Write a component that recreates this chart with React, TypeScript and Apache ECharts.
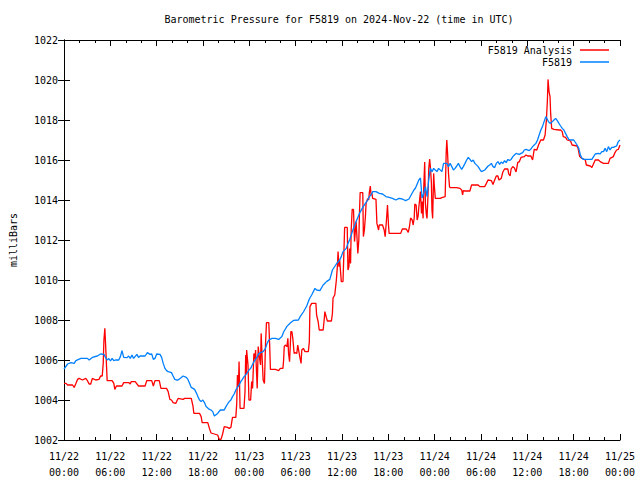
import React, { useEffect, useRef } from "react";
import * as echarts from "echarts";

const titleText = "Barometric Pressure for F5819 on 2024-Nov-22 (time in UTC)";
const yAxisName = "milliBars";
const seriesNames = ["F5819 Analysis", "F5819"];
const seriesColors = ["#ff0000", "#0080ff"];

// hours since 2024-11-22 00:00 UTC
const redHours = [
  0, 0.26, 0.47, 1.11, 1.32, 1.54, 1.75, 1.96, 2.39, 2.82, 3.03, 3.25, 3.46, 3.67, 4.1, 4.53, 4.74, 4.95,
  5.08, 5.17, 5.29, 5.38, 5.51, 5.59, 6.23, 6.45, 6.58, 6.79, 7.51, 7.73, 8.37, 8.58, 8.71, 9.22, 9.65,
  10.5, 10.72, 11.36, 11.57, 11.78, 12.34, 12.55, 13.28, 13.49, 13.71, 13.92, 14.13, 14.47, 14.77, 15.41,
  15.63, 16.48, 16.7, 16.82, 17.55, 17.76, 17.89, 18.62, 18.83, 19.04, 19.47, 19.9, 20.11, 20.33, 20.54,
  20.75, 21.18, 21.39, 21.61, 21.82, 22.25, 22.37, 22.46, 22.59, 22.67, 22.8, 23.31, 23.44, 23.53, 23.61,
  23.65, 23.83, 23.95, 24.17, 24.3, 24.42, 24.59, 24.72, 24.81, 25.02, 25.15, 25.24, 25.45, 25.53, 25.66,
  25.79, 25.96, 26.09, 26.22, 26.52, 26.64, 26.73, 27.37, 27.8, 28.01, 28.35, 28.44, 28.52, 28.65, 28.87,
  28.99, 29.08, 29.21, 29.38, 29.51, 29.63, 29.8, 29.93, 30.15, 30.27, 30.36, 30.57, 30.7, 30.79, 31.0,
  31.21, 31.64, 31.77, 31.85, 32.07, 32.62, 32.71, 32.92, 33.05, 33.56, 33.69, 33.78, 33.99, 34.11, 34.63,
  34.76, 34.84, 35.06, 35.27, 35.4, 35.49, 35.61, 35.7, 35.83, 35.91, 36.13, 36.25, 36.34, 36.68, 36.77,
  36.9, 36.98, 37.11, 37.19, 37.32, 37.49, 37.62, 37.83, 38.05, 38.18, 38.26, 38.35, 38.69, 38.77, 38.9,
  39.03, 39.12, 39.33, 39.46, 39.54, 39.67, 39.76, 39.88, 39.97, 40.4, 40.52, 40.74, 40.82, 41.25, 41.46,
  41.59, 41.76, 41.89, 42.02, 42.1, 43.6, 43.81, 44.32, 44.58, 44.75, 44.88, 45.09, 45.22, 45.35, 45.43,
  45.6, 45.73, 45.86, 45.94, 46.16, 46.29, 46.37, 46.5, 46.59, 46.71, 46.8, 46.93, 47.01, 47.14, 47.23,
  47.35, 47.44, 47.57, 47.65, 47.74, 47.87, 47.95, 48.08, 48.72, 48.93, 49.36, 49.49, 49.57, 49.66, 49.79,
  49.92, 50.0, 50.86, 51.28, 51.5, 51.62, 51.71, 51.92, 52.56, 52.78, 53.63, 53.84, 54.48, 54.7, 54.91,
  55.34, 55.55, 55.77, 55.98, 56.19, 56.32, 56.62, 56.83, 57.05, 57.47, 57.6, 57.77, 57.9, 58.11, 58.33,
  58.54, 58.67, 58.75, 58.97, 59.18, 59.61, 59.82, 60.04, 60.46, 60.68, 60.89, 61.23, 61.45, 61.74, 62.09,
  62.3, 62.47, 62.6, 62.68, 62.81, 62.94, 63.02, 63.15, 63.45, 64.09, 64.31, 64.52, 64.65, 64.95, 65.16,
  65.59, 65.8, 66.44, 66.57, 66.78, 67.08, 67.51, 67.64, 68.15, 68.36, 68.79, 69.22, 69.43, 69.86, 70.5,
  70.71, 71.14, 71.35, 71.56, 71.78, 72.0,
];
const redValues = [
  1004.83, 1004.83, 1004.75, 1004.75, 1004.63, 1004.83, 1005.03, 1005.08, 1005.0, 1005.08, 1004.97, 1004.8,
  1004.8, 1005.08, 1005.0, 1005.03, 1005.2, 1005.2, 1005.83, 1007.0, 1007.58, 1006.83, 1005.67, 1004.97,
  1004.97, 1004.83, 1004.53, 1004.7, 1004.7, 1004.87, 1004.87, 1004.8, 1004.92, 1004.92, 1004.7, 1004.7,
  1004.97, 1004.97, 1004.7, 1004.97, 1004.97, 1004.58, 1004.58, 1004.42, 1004.03, 1004.0, 1003.87, 1003.83,
  1004.08, 1004.03, 1004.08, 1004.08, 1003.7, 1003.33, 1003.33, 1003.17, 1002.87, 1002.87, 1002.58, 1002.35,
  1002.3, 1002.25, 1002.03, 1002.03, 1002.3, 1002.67, 1002.63, 1002.58, 1002.63, 1003.13, 1003.13, 1003.83,
  1005.25, 1004.67, 1005.92, 1003.58, 1003.58, 1004.42, 1006.25, 1005.33, 1006.5, 1005.75, 1004.0, 1004.0,
  1004.92, 1004.58, 1006.33, 1006.03, 1006.5, 1004.58, 1006.67, 1006.33, 1005.75, 1007.33, 1006.08, 1005.0,
  1004.83, 1006.75, 1007.87, 1007.87, 1006.67, 1005.53, 1005.53, 1005.47, 1005.58, 1005.58, 1006.0, 1006.67,
  1006.75, 1006.67, 1007.08, 1006.33, 1005.92, 1007.42, 1007.42, 1007.08, 1006.33, 1006.37, 1006.33, 1006.75,
  1006.75, 1006.08, 1005.83, 1006.5, 1006.58, 1006.42, 1006.42, 1006.92, 1008.67, 1008.83, 1008.83, 1008.25,
  1007.9, 1007.5, 1007.5, 1008.0, 1008.42, 1008.1, 1007.95, 1007.95, 1008.33, 1009.1, 1009.25, 1010.0,
  1010.67, 1011.42, 1010.67, 1011.0, 1010.33, 1009.92, 1009.92, 1011.42, 1012.63, 1012.63, 1010.5, 1010.67,
  1011.58, 1010.83, 1012.5, 1013.53, 1013.53, 1011.92, 1012.92, 1011.33, 1012.0, 1013.33, 1014.37, 1014.37,
  1012.17, 1012.5, 1013.17, 1013.83, 1014.08, 1014.0, 1014.37, 1014.7, 1014.25, 1014.33, 1014.08, 1014.03,
  1012.83, 1012.5, 1012.75, 1012.75, 1012.5, 1012.17, 1013.0, 1013.75, 1012.75, 1012.33, 1012.33, 1012.55,
  1012.55, 1012.38, 1012.7, 1013.1, 1013.0, 1012.75, 1013.1, 1013.8, 1013.75, 1013.0, 1013.2, 1013.6,
  1014.42, 1013.33, 1013.92, 1013.08, 1014.67, 1015.9, 1013.83, 1013.25, 1013.08, 1014.25, 1015.53, 1016.05,
  1015.67, 1014.92, 1013.5, 1013.08, 1015.33, 1014.75, 1014.08, 1014.08, 1014.12, 1014.17, 1016.33, 1017.0,
  1016.42, 1015.33, 1014.67, 1014.62, 1014.62, 1014.58, 1014.5, 1014.25, 1014.47, 1014.45, 1014.45, 1014.75,
  1014.75, 1014.67, 1014.67, 1014.83, 1015.0, 1014.97, 1014.78, 1015.0, 1015.2, 1015.2, 1015.0, 1015.08,
  1015.4, 1015.55, 1015.55, 1015.3, 1015.2, 1015.55, 1015.67, 1015.6, 1015.4, 1015.67, 1015.87, 1015.92,
  1016.13, 1016.17, 1016.25, 1016.2, 1016.2, 1016.0, 1016.53, 1016.5, 1016.75, 1017.0, 1017.0, 1017.25,
  1018.0, 1019.0, 1020.03, 1019.42, 1019.17, 1018.33, 1017.58, 1017.53, 1017.5, 1017.5, 1017.42, 1017.17,
  1017.13, 1017.0, 1016.95, 1016.75, 1016.7, 1016.58, 1016.17, 1016.08, 1016.0, 1015.75, 1015.7, 1015.63,
  1016.0, 1016.0, 1015.92, 1015.83, 1015.83, 1016.08, 1016.17, 1016.37, 1016.5, 1016.53, 1016.75,
];

const blueHours = [
  0, 0.47, 0.9, 1.32, 1.54, 2.18, 3.03, 3.25, 3.67, 4.31, 4.74, 5.17, 5.38, 5.59, 5.81, 6.02, 6.23, 6.45,
  6.66, 7.09, 7.3, 7.51, 7.73, 8.16, 8.37, 8.58, 8.8, 9.01, 9.44, 9.65, 9.86, 10.5, 10.8, 11.14, 11.36,
  11.57, 11.78, 12.0, 12.43, 12.64, 12.85, 13.07, 13.28, 13.49, 13.92, 14.13, 14.35, 14.56, 14.77, 15.2,
  15.41, 15.84, 16.05, 16.27, 16.48, 16.7, 16.91, 17.12, 17.34, 17.55, 17.76, 17.98, 18.19, 18.4, 18.83,
  19.04, 19.26, 19.47, 19.9, 20.24, 20.75, 20.97, 21.18, 21.39, 21.61, 21.82, 22.04, 22.25, 22.46, 22.68,
  22.89, 23.1, 23.32, 23.53, 23.74, 23.96, 24.17, 24.38, 24.6, 24.81, 25.02, 25.24, 25.45, 25.79, 26.09,
  26.3, 26.52, 26.94, 27.37, 27.8, 28.22, 28.44, 28.87, 29.3, 29.72, 30.36, 30.58, 31.0, 31.43, 31.77,
  32.07, 32.5, 32.71, 33.14, 33.56, 33.99, 34.42, 34.76, 35.27, 35.7, 35.91, 36.13, 36.55, 36.77, 36.98,
  37.41, 37.83, 38.26, 38.69, 39.03, 39.33, 39.54, 39.76, 39.97, 40.4, 40.83, 41.25, 41.68, 42.11, 42.53,
  42.96, 43.39, 43.81, 44.24, 44.67, 44.88, 45.31, 45.52, 45.95, 46.16, 46.37, 46.59, 46.8, 47.02, 47.23,
  47.44, 47.66, 47.87, 48.08, 48.3, 48.51, 48.94, 49.15, 49.58, 49.79, 50.0, 50.22, 50.43, 50.64, 50.86,
  51.07, 51.28, 51.5, 51.71, 51.93, 52.14, 52.35, 52.57, 52.78, 52.99, 53.21, 53.63, 53.85, 54.06, 54.49,
  54.92, 55.13, 55.34, 55.56, 55.77, 55.98, 56.2, 56.41, 56.62, 56.84, 57.05, 57.26, 57.48, 57.69, 57.9,
  58.12, 58.33, 58.55, 58.76, 58.97, 59.19, 59.4, 59.61, 59.83, 60.25, 60.47, 60.68, 60.89, 61.11, 61.32,
  61.53, 61.75, 61.96, 62.17, 62.39, 62.6, 62.73, 62.94, 63.11, 63.24, 63.45, 63.67, 63.88, 64.09, 64.31,
  64.52, 64.73, 64.95, 65.16, 65.37, 65.59, 66.01, 66.44, 66.66, 66.87, 67.08, 67.3, 68.36, 68.58, 68.79,
  69.22, 69.43, 69.64, 69.86, 70.07, 70.28, 70.5, 70.71, 70.92, 71.14, 71.35, 71.56, 71.78, 72.0,
];
const blueValues = [
  1005.55, 1005.8, 1005.87, 1005.83, 1005.97, 1006.08, 1006.08, 1006.0, 1006.13, 1006.2, 1006.3, 1006.28,
  1006.13, 1006.0, 1006.07, 1005.95, 1006.08, 1005.97, 1006.0, 1006.0, 1006.17, 1006.47, 1006.13, 1006.12,
  1006.2, 1006.08, 1006.25, 1006.08, 1006.28, 1006.13, 1006.2, 1006.2, 1006.37, 1006.28, 1006.3, 1006.03,
  1006.08, 1006.3, 1006.28, 1006.13, 1005.83, 1005.58, 1005.47, 1005.42, 1005.37, 1005.2, 1005.03, 1005.0,
  1005.0, 1005.13, 1005.2, 1005.13, 1005.03, 1004.83, 1004.63, 1004.58, 1004.53, 1004.37, 1004.17, 1004.0,
  1003.92, 1004.0, 1003.87, 1003.67, 1003.53, 1003.5, 1003.42, 1003.2, 1003.33, 1003.5, 1003.5, 1003.67,
  1003.8, 1003.92, 1004.0, 1004.17, 1004.3, 1004.5, 1004.63, 1004.75, 1004.92, 1005.03, 1005.17, 1005.25,
  1005.37, 1005.5, 1005.58, 1005.75, 1005.92, 1006.03, 1006.17, 1006.33, 1006.37, 1006.42, 1006.58, 1006.83,
  1007.0, 1007.08, 1007.08, 1007.03, 1007.17, 1007.4, 1007.68, 1007.85, 1007.98, 1008.0, 1008.17, 1008.4,
  1008.7, 1009.05, 1009.25, 1009.58, 1009.5, 1009.47, 1009.75, 1009.92, 1010.03, 1010.5, 1010.8, 1011.0,
  1011.17, 1011.42, 1011.58, 1011.83, 1012.0, 1012.5, 1012.92, 1013.33, 1013.63, 1013.83, 1014.0, 1014.17,
  1014.25, 1014.42, 1014.42, 1014.33, 1014.3, 1014.17, 1014.13, 1014.08, 1014.0, 1014.08, 1014.05, 1013.97,
  1014.05, 1014.2, 1014.5, 1014.6, 1015.0, 1015.1, 1014.1, 1014.33, 1014.67, 1014.17, 1015.0, 1015.58,
  1015.42, 1015.58, 1015.5, 1015.42, 1015.58, 1015.42, 1015.83, 1015.83, 1015.67, 1015.83, 1015.67, 1015.5,
  1015.58, 1015.7, 1015.83, 1015.67, 1015.53, 1015.67, 1015.83, 1016.0, 1016.13, 1016.03, 1015.92, 1016.0,
  1015.83, 1015.67, 1015.53, 1015.42, 1015.5, 1015.7, 1015.75, 1015.83, 1015.67, 1015.62, 1015.83, 1015.92,
  1015.78, 1015.9, 1015.83, 1015.97, 1015.87, 1016.03, 1015.97, 1016.03, 1016.17, 1016.25, 1016.33, 1016.3,
  1016.28, 1016.33, 1016.37, 1016.5, 1016.53, 1016.47, 1016.55, 1016.67, 1016.75, 1016.83, 1017.0, 1017.25,
  1017.5, 1017.67, 1017.92, 1018.17, 1018.03, 1017.92, 1017.83, 1017.87, 1017.92, 1018.0, 1018.08, 1017.97,
  1017.83, 1017.7, 1017.58, 1017.5, 1017.33, 1017.17, 1017.03, 1017.0, 1017.0, 1016.75, 1016.58, 1016.25,
  1016.08, 1016.03, 1016.03, 1016.17, 1016.3, 1016.33, 1016.3, 1016.42, 1016.42, 1016.58, 1016.42, 1016.67,
  1016.5, 1016.63, 1016.63, 1016.67, 1016.7, 1016.92, 1017.0,
];

const FONT = "'DejaVu Sans Mono', 'Liberation Mono', monospace";

function pairs(hours: number[], values: number[]) {
  return hours.map((h, i) => [h, values[i]]);
}

function timeLabel(v: number) {
  const day = 22 + Math.floor(v / 24);
  const hour = Math.round(v % 24);
  return `11/${day}\n${String(hour).padStart(2, "0")}:00`;
}

export default function App() {
  const ref = useRef<HTMLDivElement>(null);
  useEffect(() => {
    if (!ref.current) return;
    const chart = echarts.init(ref.current, undefined, { renderer: "svg" });
    const axisLine = { show: true, lineStyle: { color: "#000", width: 1 } };
    const xCommon = {
      type: "value" as const,
      min: 0,
      max: 72,
      interval: 6,
      axisLine,
      axisTick: { show: true, inside: true, length: 6, lineStyle: { color: "#000" } },
      minorTick: { show: true, splitNumber: 3, length: 3, lineStyle: { color: "#000" } },
      splitLine: { show: false },
    };
    const yCommon = {
      type: "value" as const,
      min: 1002,
      max: 1022,
      interval: 2,
      axisLine,
      axisTick: { show: true, inside: true, length: 6, lineStyle: { color: "#000" } },
      splitLine: { show: false },
    };
    chart.setOption({
      animation: false,
      backgroundColor: "#fff",
      grid: { left: 58, right: 20, top: 40, bottom: 40, containLabel: false },
      graphic: [
        {
          type: "text",
          x: 339,
          y: 19,
          style: {
            text: titleText,
            fontFamily: FONT,
            fontSize: 10,
            fill: "#000",
            align: "center",
            verticalAlign: "middle",
          },
        },
      ],
      legend: {
        data: seriesNames,
        orient: "vertical",
        align: "right",
        right: 31,
        top: 44,
        padding: 0,
        itemGap: 0,
        itemWidth: 29,
        itemHeight: 1.5,
        icon: "rect",
        textStyle: {
          fontFamily: FONT,
          fontSize: 10,
          color: "#000",
          lineHeight: 12,
          padding: [0, 3, 0, 0],
        },
      },
      xAxis: [
        {
          ...xCommon,
          position: "bottom",
          axisLabel: {
            formatter: timeLabel,
            fontFamily: FONT,
            fontSize: 10,
            color: "#000",
            lineHeight: 16,
            margin: 8,
          },
        },
        {
          ...xCommon,
          position: "top",
          axisLabel: { show: false },
        },
      ],
      yAxis: [
        {
          ...yCommon,
          position: "left",
          name: yAxisName,
          nameLocation: "middle",
          nameRotate: 90,
          nameGap: 46,
          nameTextStyle: { fontFamily: FONT, fontSize: 10, color: "#000" },
          axisLabel: {
            fontFamily: FONT,
            fontSize: 10,
            color: "#000",
            margin: 6,
            formatter: (v: number) => String(v),
          },
        },
        {
          ...yCommon,
          position: "right",
          axisLabel: { show: false },
        },
      ],
      series: [
        {
          name: seriesNames[0],
          type: "line",
          data: pairs(redHours, redValues),
          showSymbol: false,
          symbol: "none",
          color: seriesColors[0],
          lineStyle: { color: seriesColors[0], width: 1.3 },
          z: 2,
        },
        {
          name: seriesNames[1],
          type: "line",
          data: pairs(blueHours, blueValues),
          showSymbol: false,
          symbol: "none",
          color: seriesColors[1],
          lineStyle: { color: seriesColors[1], width: 1.3 },
          z: 3,
        },
      ],
    });
    return () => chart.dispose();
  }, []);
  return (
    <div
      ref={ref}
      style={{ position: "fixed", left: 0, top: 0, width: 640, height: 480, background: "#fff" }}
    />
  );
}
